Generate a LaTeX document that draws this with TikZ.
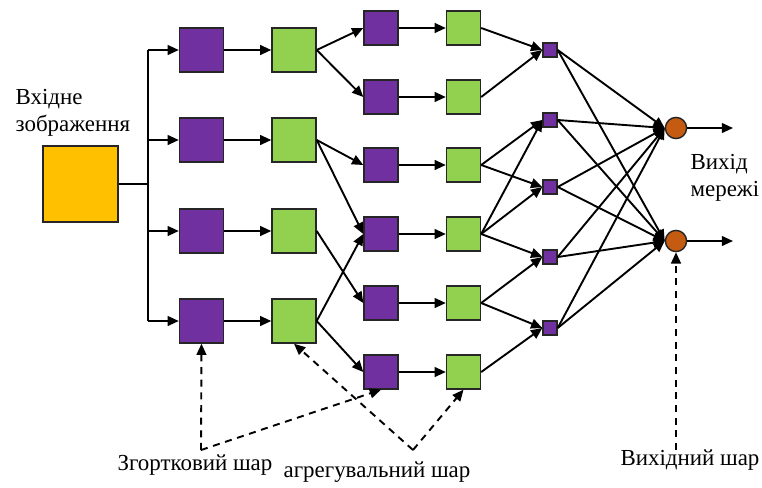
\documentclass[tikz,border=0pt]{standalone}
\usepackage{fontspec}
\setmainfont{Liberation Serif}
\newfontfamily\lblfont{Liberation Serif}
\usetikzlibrary{arrows.meta}
\definecolor{convcol}{RGB}{112,48,160}
\definecolor{poolcol}{RGB}{146,208,80}
\definecolor{incol}{RGB}{255,192,0}
\definecolor{outcol}{RGB}{197,90,17}
\tikzset{
  unit/.style={draw=black!85, line width=1pt, inner sep=0pt},
  inbox/.style={unit, fill=incol, minimum width=1.875cm, minimum height=1.9cm},
  conv/.style={unit, fill=convcol, minimum size=1.1cm},
  pool/.style={unit, fill=poolcol, minimum size=1.1cm},
  sconv/.style={unit, fill=convcol, minimum size=0.85cm},
  spool/.style={unit, fill=poolcol, minimum size=0.85cm},
  fc/.style={unit, fill=convcol, minimum size=0.35cm},
  outn/.style={unit, circle, fill=outcol, minimum size=0.53cm},
  lbl/.style={font=\lblfont\fontsize{16.3}{19.5}\selectfont},
  note/.style={->, dashed, dash pattern=on 5pt off 4pt}
}
\begin{document}
\begin{tikzpicture}[x=0.025cm, y=-0.025cm, line width=1.35pt, >={Triangle[length=8pt,width=7pt]}]
\useasboundingbox (0,0) rectangle (762,487);

% input
\node[inbox] (in) at (80.5,184) {};
\node[lbl, align=left, anchor=west] (inlbl) at (10,113) {Вхідне\\зображення};
\coordinate (bus) at (148,184);
\draw (in) -- (bus);

% first conv + pool
\foreach \i/\y in {1/50,2/140,3/231,4/321}{
  \node[conv] (a\i) at (201.5,\y) {};
  \node[pool] (b\i) at (294,\y) {};
  \draw[->] (bus |- a\i) -- (a\i);
  \draw[->] (a\i) -- (b\i);
}
\draw (bus |- a1) -- (bus |- a4);

% second conv + pool
\foreach \i/\y in {1/28,2/97,3/165,4/234,5/303,6/372}{
  \node[sconv] (c\i) at (381,\y) {};
  \node[spool] (d\i) at (463.5,\y) {};
  \draw[->] (c\i) -- (d\i);
}
\foreach \a/\c in {1/1,1/2,2/3,2/4,3/5,4/4,4/6}
  \draw[->] (b\a.east) -- (c\c.west);

% fully connected
\foreach \i/\y in {1/50,2/120,3/187,4/257,5/328}
  \node[fc] (s\i) at (550,\y) {};
\foreach \d/\s in {1/1,2/1,3/2,3/3,4/2,4/3,4/4,5/4,5/5,6/5}
  \draw[->] (d\d.east) -- (s\s.west);

% output
\node[outn] (o1) at (676,128) {};
\node[outn] (o2) at (676,241) {};
\foreach \s in {1,...,5}{
  \draw[->] (s\s.east) -- (o1.west);
  \draw[->] (s\s.east) -- (o2.west);
}
\coordinate (e1) at (733,128);
\coordinate (e2) at (733,241);
\draw[->] (o1) -- (e1);
\draw[->] (o2) -- (e2);
\node[lbl, align=left, anchor=west] (outlbl) at (685,178) {Вихід\\мережі};

% notes
\coordinate (n1) at (201,450);
\coordinate (n2) at (413,450);
\coordinate (n3) at (676,450);
\draw[note] (n1) -- (a4.south);
\draw[note] (n1) -- (c6.south);
\draw[note] (n2) -- (b4.south);
\draw[note] (n2) -- (d6.south);
\draw[note] (n3) -- (o2.south);
\node[lbl] (convlbl) at (195,465) {Згортковий шар};
\node[lbl] (poollbl) at (377,472) {агрегувальний шар};
\node[lbl] (outlayer) at (690,460) {Вихідний шар};
\end{tikzpicture}
\end{document}
